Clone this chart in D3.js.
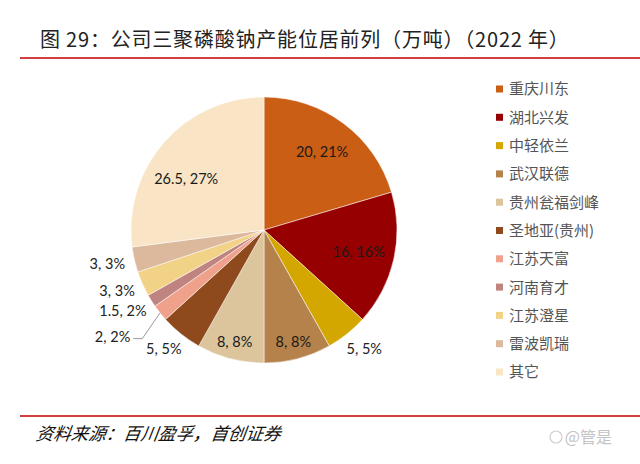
<!DOCTYPE html>
<html><head><meta charset="utf-8">
<script src="https://cdn.jsdelivr.net/npm/d3@7"></script>
<style>html,body{margin:0;padding:0;background:#fff;}svg{display:block;}</style>
</head><body>
<script>
const categories = ["重庆川东","湖北兴发","中轻依兰","武汉联德","贵州瓮福剑峰","圣地亚(贵州)","江苏天富","河南育才","江苏澄星","雷波凯瑞","其它"];
const values = [20, 16, 5, 8, 8, 5, 2, 1.5, 3, 3, 26.5];
const percentLabels = ["21%","16%","5%","8%","8%","5%","2%","2%","3%","3%","27%"];
const colors = ["#CB5E15","#970000","#D4A600","#B5824B","#DCC49C","#8E4A1C","#EFA18B","#C08480","#F2D287","#DCB89D","#F9E5C6"];
const title = "图 29：公司三聚磷酸钠产能位居前列（万吨）（2022 年）";
const source = "资料来源：百川盈孚，首创证券";

const W = 640, H = 464;
const svg = d3.select("body").append("svg").attr("width", W).attr("height", H);

// Title and rules
svg.append("text").attr("x", 40).attr("y", 47)
  .attr("font-family", "'Noto Sans CJK SC', sans-serif").attr("font-size", 20)
  .attr("letter-spacing", 0.8)
  .attr("fill", "#222").text(title);
svg.append("line").attr("x1", 20).attr("x2", 640).attr("y1", 58).attr("y2", 58)
  .attr("stroke", "#C00000").attr("stroke-width", 1.5);
svg.append("line").attr("x1", 20).attr("x2", 640).attr("y1", 416).attr("y2", 416)
  .attr("stroke", "#C00000").attr("stroke-width", 1.5);
svg.append("text").attr("x", 36).attr("y", 440)
  .attr("font-family", "'Noto Sans CJK SC', serif").attr("font-size", 17.5)
  .attr("font-style", "italic").attr("transform", "skewX(-8) translate(61,0)")
  .attr("fill", "#111").text(source);
svg.append("text").attr("x", 612).attr("y", 443).attr("text-anchor", "end")
  .attr("font-family", "'Noto Sans CJK SC', sans-serif").attr("font-size", 16)
  .attr("fill", "#c4c4c4").text("@管是");
svg.append("circle").attr("cx", 556).attr("cy", 437).attr("r", 6)
  .attr("fill", "none").attr("stroke", "#cfcfcf").attr("stroke-width", 1.2);

// Pie
const cx = 264, cy = 230, R = 133;
const g = svg.append("g").attr("transform", `translate(${cx},${cy})`);
const pie = d3.pie().value(d => d).sort(null);
const arcs = pie(values);
const arc = d3.arc().innerRadius(0).outerRadius(R);
g.selectAll("path").data(arcs).join("path")
  .attr("d", arc).attr("fill", (d, i) => colors[i])
  .attr("stroke", "#fff").attr("stroke-width", 0.5);

const labelFont = "Lato, 'Liberation Sans', sans-serif";
const labelSize = 14.5;
const mid = d => (d.startAngle + d.endAngle) / 2;
const pt = (a, r) => [Math.sin(a) * r, -Math.cos(a) * r];

arcs.forEach((d, i) => {
  const txt = values[i] + ", " + percentLabels[i];
  const a = mid(d);
  const span = d.endAngle - d.startAngle;
  if (i === 10) {
    const [x, y] = pt(a - 0.14, R * 0.70);
    g.append("text").attr("x", x).attr("y", y).attr("text-anchor", "middle").attr("dy", "0.35em")
      .attr("font-family", labelFont).attr("font-size", labelSize).attr("fill", "#1a1a1a").text(txt);
  } else if (span > 0.45) {
    const f = span > 0.8 ? 0.73 : 0.87;
    const [x, y] = pt(a, R * f);
    g.append("text").attr("x", x).attr("y", y).attr("text-anchor", "middle").attr("dy", "0.35em")
      .attr("font-family", labelFont).attr("font-size", labelSize).attr("fill", "#1a1a1a").text(txt);
  } else if (categories[i] === "江苏天富") {
    const [ax, ay] = pt(a, R);
    const [lx, ly] = pt(a, R + 38);
    g.append("polyline").attr("points", `${ax},${ay} ${lx + 12},${ly + 2} ${lx + 3},${ly + 2}`)
      .attr("fill", "none").attr("stroke", "#7f7f7f").attr("stroke-width", 0.8);
    g.append("text").attr("x", lx).attr("y", ly).attr("text-anchor", "end").attr("dy", "0.35em")
      .attr("font-family", labelFont).attr("font-size", labelSize).attr("fill", "#222").text(txt);
  } else {
    const t = g.append("text").attr("font-family", labelFont).attr("font-size", labelSize)
      .attr("fill", "#222").attr("text-anchor", "middle").attr("dy", "0.35em").text(txt);
    const bb = t.node().getBBox();
    const [px, py] = pt(a, R + 10);
    const x = px + Math.sin(a) * bb.width / 2;
    const y = py - Math.cos(a) * bb.height / 2;
    t.attr("x", x).attr("y", y);
  }
});

// Legend
const lg = svg.append("g");
const ly = d3.scalePoint().domain(categories).range([89, 372]);
categories.forEach((c, i) => {
  lg.append("rect").attr("x", 496).attr("y", ly(c) - 3.5).attr("width", 7).attr("height", 7)
    .attr("fill", colors[i]);
  lg.append("text").attr("x", 509).attr("y", ly(c)).attr("dy", "0.36em")
    .attr("font-family", "'Noto Sans CJK SC', sans-serif").attr("font-size", 15)
    .attr("fill", "#555").text(c);
});
</script>
</body></html>
